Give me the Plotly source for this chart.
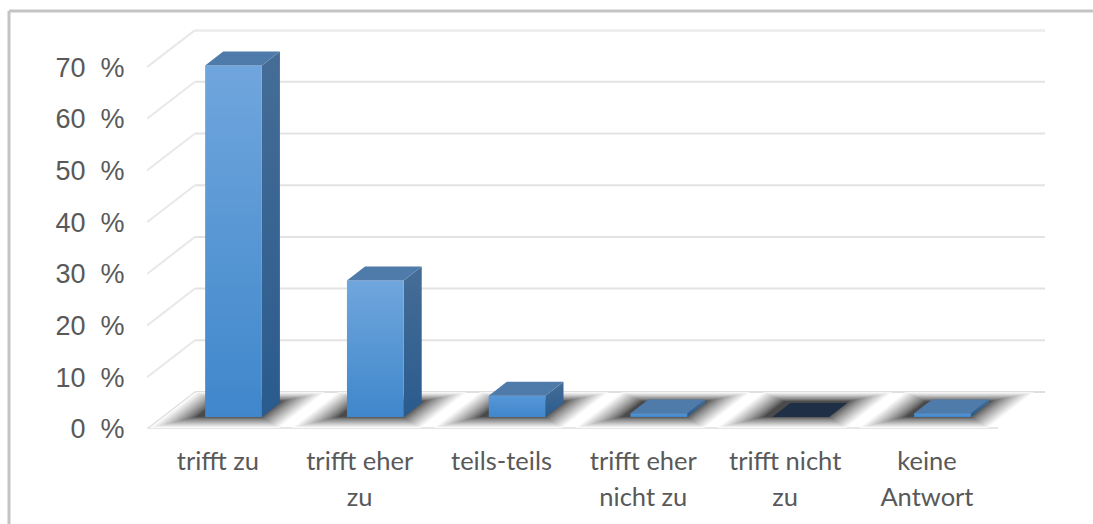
import plotly.graph_objects as go

categories = ["trifft zu", "trifft eher<br>zu", "teils-teils", "trifft eher<br>nicht zu", "trifft nicht<br>zu", "keine<br>Antwort"]
values = [68, 26.4, 4.1, 0.7, 0, 0.7]
ticks = [0, 10, 20, 30, 40, 50, 60, 70]
tick_labels = ["0  %", "10  %", "20  %", "30  %", "40  %", "50  %", "60  %", "70  %"]

DX = 0.3385   # full floor depth, in category units
DY = 7.16     # full floor depth, in percent units
D0 = 0.325    # depth of bar front plane
BD = 0.376    # bar depth
HW = 0.2      # bar half width
LEFT = -0.5
RIGHT = 5.5

fig = go.Figure()

def line(xs, ys, color="#e5e5e5", width=2):
    fig.add_trace(go.Scatter(x=xs, y=ys, mode="lines", line=dict(color=color, width=width),
                             hoverinfo="skip", showlegend=False))

# wall gridlines with their diagonals on the side wall
for v in ticks:
    if v == 0:
        continue
    line([LEFT, LEFT + DX], [v, v + DY], "#e8e8e8", 2)
    if v == 70:
        line([LEFT + DX, RIGHT + DX], [v + DY, v + DY], "#eeeeee", 4)
    else:
        line([LEFT + DX, RIGHT + DX], [v + DY, v + DY], "#e3e3e3", 2)

# floor outline
line([LEFT + DX, RIGHT + DX], [DY, DY], "#d4d4d4", 1.5)
line([LEFT, LEFT + DX], [0, DY], "#e0e0e0", 1.5)
line([LEFT, RIGHT], [0.1, 0.1], "#e6e6e6", 3)

# blurred floor shadows: nested grey parallelograms, lightest and widest first
N = 30
for k in range(N):
    t = 1 - k / (N - 1)
    hw = HW + (4 + 32 * t) / 141.8
    d1 = 0.33 - t * 0.3
    d2 = 0.75 + t * 0.24
    g = round(0x4a + (0xfc - 0x4a) * t ** 0.8)
    xs, ys = [], []
    for i in range(len(values)):
        c = i - 0.035
        xs += [c - hw + DX * d1, c + hw + DX * d1, c + hw + DX * d2, c - hw + DX * d2, c - hw + DX * d1, None]
        ys += [DY * d1, DY * d1, DY * d2, DY * d2, DY * d1, None]
    fig.add_trace(go.Scatter(x=xs, y=ys, mode="none",
                             fill="toself", fillcolor=f"rgb({g},{g},{g})",
                             hoverinfo="skip", showlegend=False))

def face(xs, ys, color=None, grad=None):
    kw = dict(fillcolor=color) if color else dict(
        fillgradient=dict(type="vertical", colorscale=[[0, grad[0]], [1, grad[1]]]))
    fig.add_trace(go.Scatter(x=xs, y=ys, mode="none",
                             fill="toself", hoverinfo="skip", showlegend=False, **kw))

# 3D bars
for i, v in enumerate(values):
    x0, x1 = i - HW + DX * D0, i + HW + DX * D0
    y0 = DY * D0
    ox, oy = DX * BD, DY * BD
    top = "#1f2f45" if v == 0 else "#4f7bab"
    if v > 0:
        face([x1, x1 + ox, x1 + ox, x1, x1], [y0, y0 + oy, y0 + v + oy, y0 + v, y0],
             grad=("#2a5b8e", "#456d96"))
        face([x0, x1, x1, x0, x0], [y0, y0, y0 + v, y0 + v, y0],
             grad=("#3f87cb", "#70a6dd") if v > 10 else ("#3f87cb", "#5797d8"))
    face([x0, x1, x1 + ox, x0 + ox, x0], [y0 + v, y0 + v, y0 + v + oy, y0 + v + oy, y0 + v], color=top)

frame = dict(type="line", xref="paper", yref="paper", line=dict(color="#c4c4c4", width=3))
px = lambda x: (x - 147) / 898
py = lambda y: (429 - y) / 400

span = '<span style="font-size:25.5px">'
fig.update_layout(
    width=1093, height=524,
    margin=dict(l=147, r=48, t=29, b=95, autoexpand=False),
    paper_bgcolor="white", plot_bgcolor="white",
    showlegend=False,
    xaxis=dict(range=[LEFT, RIGHT + DX - 0.006], tickmode="array", tickvals=list(range(6)),
               ticktext=[span + c.replace("<br>", '</span><br>' + span) + '</span>' for c in categories],
               tickfont=dict(family="Lato", size=28, color="#595959"),
               showgrid=False, zeroline=False, showline=False, automargin=False,
               ticks="outside", ticklen=6, tickcolor="rgba(0,0,0,0)"),
    yaxis=dict(range=[0, 77.37], tickmode="array", tickvals=ticks, ticktext=tick_labels,
               tickfont=dict(family="Liberation Sans", size=27, color="#595959"),
               showgrid=False, zeroline=False, showline=False, automargin=False,
               ticks="outside", ticklen=16, tickcolor="rgba(0,0,0,0)"),
    shapes=[
        dict(frame, x0=px(9), x1=px(9), y0=py(11), y1=py(524)),
        dict(frame, x0=px(9), x1=px(1093), y0=py(11), y1=py(11)),
    ],
)

fig.write_html("out.html", config=dict(displayModeBar=False),
               post_script="document.body.style.margin='0';")
